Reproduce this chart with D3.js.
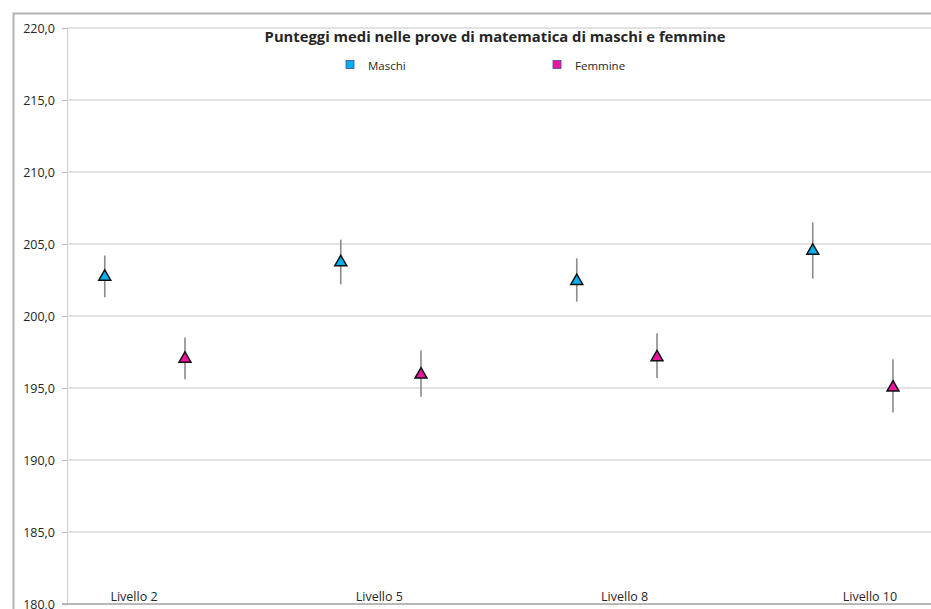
<!DOCTYPE html>
<html>
<head>
<meta charset="utf-8">
<script src="https://cdn.jsdelivr.net/npm/d3@7/dist/d3.min.js"></script>
<style>
  html, body { margin: 0; padding: 0; background: #ffffff; }
  svg { display: block; }
  text { font-family: "Open Sans", "Noto Sans", sans-serif; fill: #262626; }
</style>
</head>
<body>
<svg id="chart" width="931" height="609"></svg>
<script>
// ---- data ----
const categories = ["Livello 2", "Livello 5", "Livello 8", "Livello 10"];
const seriesNames = ["Maschi", "Femmine"];
const maschi      = [202.8, 203.8, 202.5, 204.6];
const maschiLow   = [201.3, 202.2, 201.0, 202.6];
const maschiHigh  = [204.2, 205.3, 204.0, 206.5];
const femmine     = [197.1, 196.0, 197.2, 195.1];
const femmineLow  = [195.6, 194.4, 195.7, 193.3];
const femmineHigh = [198.5, 197.6, 198.8, 197.0];
const yTicks = [180, 185, 190, 195, 200, 205, 210, 215, 220];
const title = "Punteggi medi nelle prove di matematica di maschi e femmine";

// ---- layout ----
const svg = d3.select("#chart");
const W = 931, H = 609;
const plotLeft = 67, plotTop = 28, plotBottom = 604;
const bandW = 236;
const colors = { Maschi: "#00b0f0", Femmine: "#ec14a0" };
const offsets = { Maschi: 0.16, Femmine: 0.5 };

const x = d3.scaleLinear().domain([0, categories.length]).range([plotLeft, plotLeft + bandW * categories.length]);
const y = d3.scaleLinear().domain([180, 220]).range([plotBottom, plotTop]);
const xLabel = d3.scalePoint().domain(categories).range([134, 870]);

const itFmt = d3.formatLocale({ decimal: ",", thousands: ".", grouping: [3], currency: ["", "€"] }).format(".1f");

// outer chart border
svg.append("rect")
  .attr("x", 13.5).attr("y", 13.5)
  .attr("width", W + 20).attr("height", H + 20)
  .attr("fill", "#ffffff")
  .attr("stroke", "#b3b3b3").attr("stroke-width", 2);

// gridlines
svg.append("g").selectAll("line")
  .data(yTicks.filter(t => t !== 180))
  .join("line")
  .attr("x1", plotLeft).attr("x2", W)
  .attr("y1", d => y(d)).attr("y2", d => y(d))
  .attr("stroke", "#d9d9d9").attr("stroke-width", 1.3);

// y axis
const yAxis = d3.axisLeft(y).tickValues(yTicks).tickFormat(itFmt).tickSize(5).tickPadding(7);
const gy = svg.append("g").attr("transform", `translate(${plotLeft},0)`).call(yAxis);
gy.select(".domain").attr("stroke", "#d6d6d6").attr("stroke-width", 1.3);
gy.selectAll(".tick line").attr("stroke", "#bfbfbf");
gy.selectAll(".tick text")
  .attr("font-family", "'Open Sans', 'Noto Sans', sans-serif")
  .attr("font-size", 12.5).attr("fill", "#262626");

// bottom axis line (180)
svg.append("line")
  .attr("x1", plotLeft - 5).attr("x2", W)
  .attr("y1", y(180)).attr("y2", y(180))
  .attr("stroke", "#b8b8b8").attr("stroke-width", 2);

// category labels
svg.append("g").selectAll("text")
  .data(categories)
  .join("text")
  .attr("x", d => xLabel(d))
  .attr("y", 601)
  .attr("text-anchor", "middle")
  .attr("font-size", 12.5)
  .text(d => d);

// series
const series = [
  { name: "Maschi", vals: maschi, lo: maschiLow, hi: maschiHigh },
  { name: "Femmine", vals: femmine, lo: femmineLow, hi: femmineHigh }
];
const tri = d3.symbol().type(d3.symbolTriangle).size(62);

series.forEach(s => {
  const g = svg.append("g");
  const pts = categories.map((c, i) => ({ i, v: s.vals[i], lo: s.lo[i], hi: s.hi[i] }));
  g.selectAll("line.err")
    .data(pts).join("line")
    .attr("class", "err")
    .attr("x1", d => x(d.i + offsets[s.name])).attr("x2", d => x(d.i + offsets[s.name]))
    .attr("y1", d => y(d.lo)).attr("y2", d => y(d.hi))
    .attr("stroke", "#8a8a8a").attr("stroke-width", 1.6);
  g.selectAll("path.mk")
    .data(pts).join("path")
    .attr("class", "mk")
    .attr("d", tri)
    .attr("transform", d => `translate(${x(d.i + offsets[s.name])},${y(d.v) + 1})`)
    .attr("fill", colors[s.name])
    .attr("stroke", "#111111").attr("stroke-width", 1.5)
    .attr("stroke-linejoin", "miter");
});

// title
svg.append("text")
  .attr("x", 495).attr("y", 42)
  .attr("text-anchor", "middle")
  .attr("font-size", 14.8).attr("font-weight", "bold")
  .attr("fill", "#1a1a1a")
  .text(title);

// legend
const legendX = { Maschi: 346, Femmine: 553 };
const lg = svg.append("g");
seriesNames.forEach(n => {
  lg.append("rect")
    .attr("x", legendX[n]).attr("y", 60.5)
    .attr("width", 8).attr("height", 8)
    .attr("fill", colors[n]).attr("stroke", "#4a4a8a").attr("stroke-width", 0.8);
  lg.append("text")
    .attr("x", legendX[n] + 22).attr("y", 70)
    .attr("font-size", 11.5)
    .text(n);
});
</script>
</body>
</html>
